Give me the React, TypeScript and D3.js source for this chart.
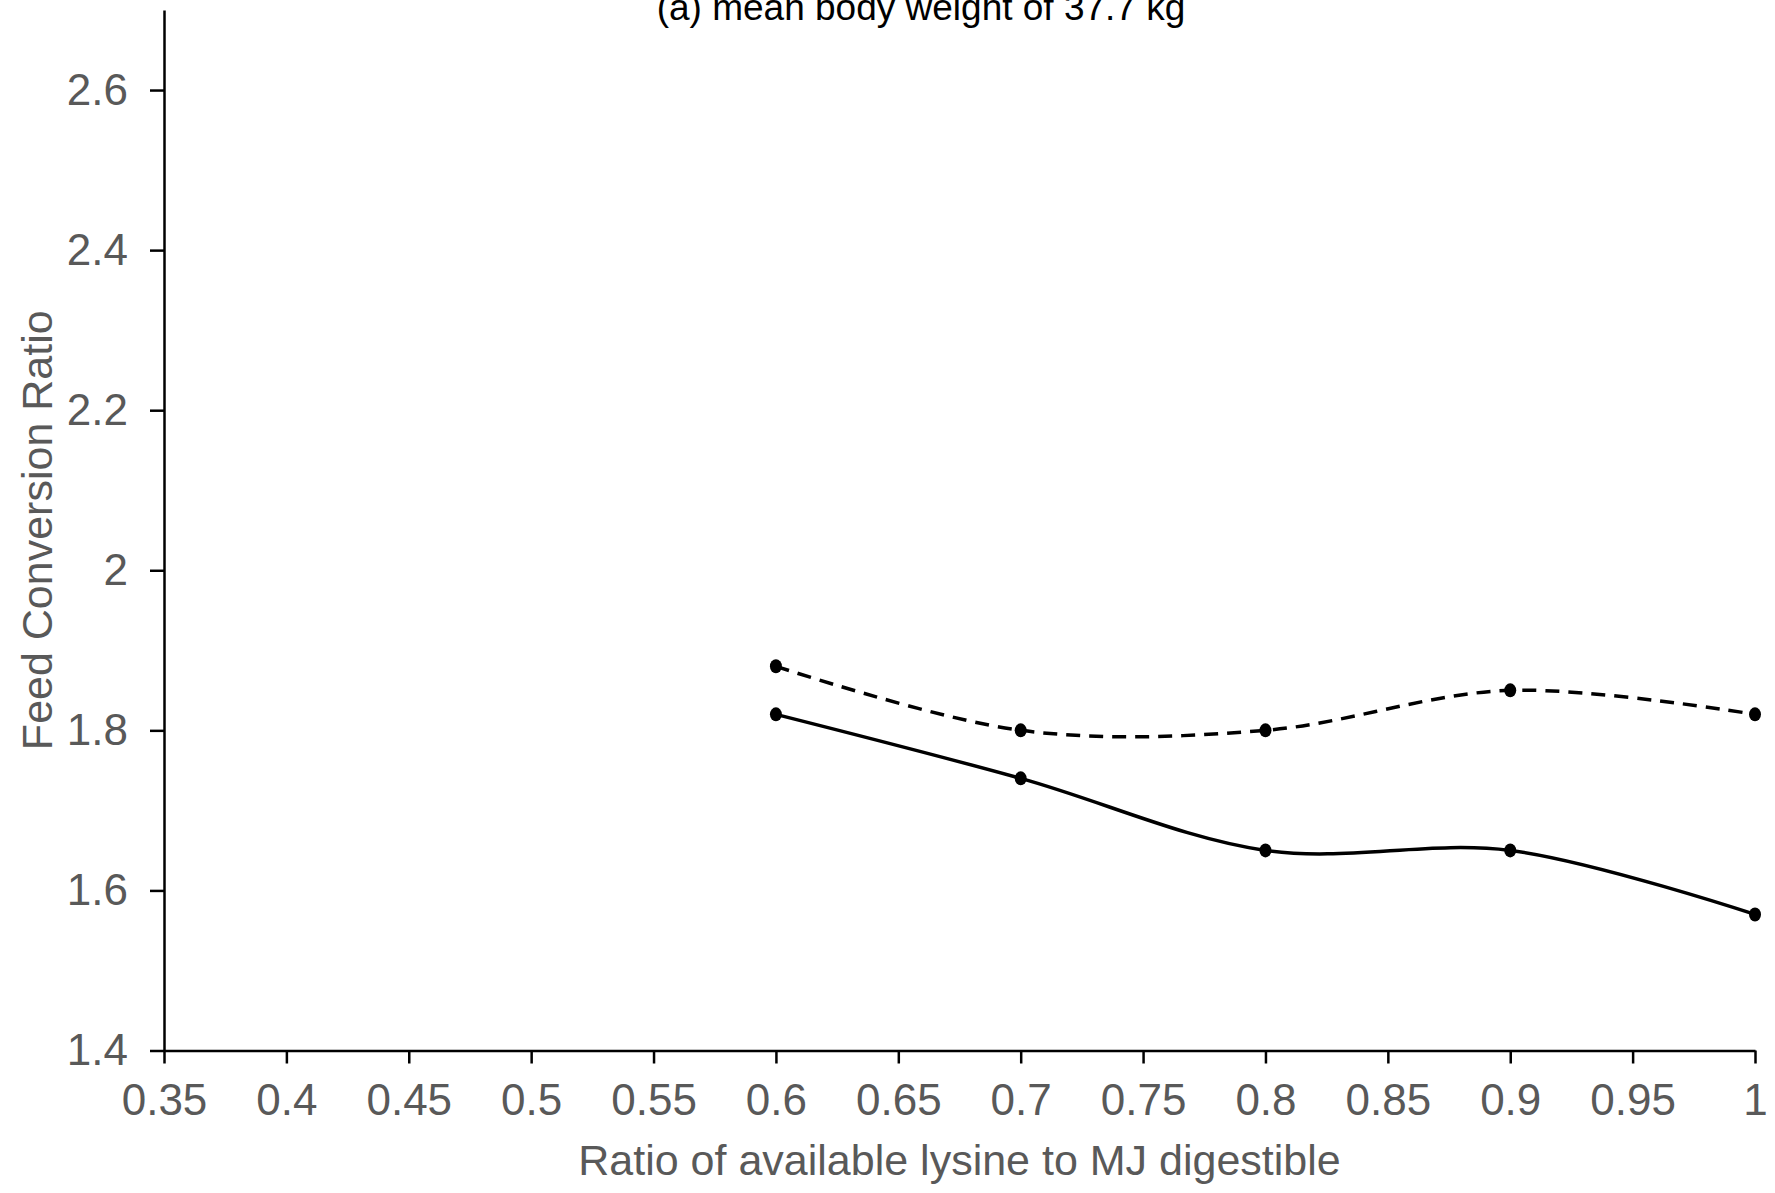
import { useEffect, useRef } from "react";
import * as d3 from "d3";

// Chart data
const ratios = [0.6, 0.7, 0.8, 0.9, 1.0];
const fcrDashed = [1.88, 1.8, 1.8, 1.85, 1.82];
const fcrSolid = [1.82, 1.74, 1.65, 1.65, 1.57];
const xTicks = [0.35, 0.4, 0.45, 0.5, 0.55, 0.6, 0.65, 0.7, 0.75, 0.8, 0.85, 0.9, 0.95, 1];
const yTicks = [1.4, 1.6, 1.8, 2, 2.2, 2.4, 2.6];

const FONT = "'Liberation Sans', Arial, sans-serif";

function App() {
  const ref = useRef<SVGSVGElement>(null);

  useEffect(() => {
    const svg = d3.select(ref.current);
    const width = 1775;
    const height = 1193;

    svg.attr("width", width).attr("height", height);

    // Scales
    const x = d3.scaleLinear().domain([0.35, 1]).range([164, 1755]);
    const y = d3.scaleLinear().domain([1.4, 2.7]).range([1050.5, 10]);

    // Axes
    const xAxis = svg
      .append("g")
      .attr("transform", `translate(0, ${y(1.4)})`)
      .call(
        d3
          .axisBottom(x)
          .tickValues(xTicks)
          .tickFormat((d) => String(d))
          .tickSizeInner(13)
          .tickSizeOuter(0)
          .tickPadding(20)
      );

    const yAxis = svg
      .append("g")
      .attr("transform", `translate(${x(0.35)}, 0)`)
      .call(
        d3
          .axisLeft(y)
          .tickValues(yTicks)
          .tickFormat((d) => String(d))
          .tickSizeInner(14)
          .tickSizeOuter(0)
          .tickPadding(22)
      );

    [xAxis, yAxis].forEach((g) => {
      g.select(".domain").attr("stroke", "#000").attr("stroke-width", 2.5);
      g.selectAll(".tick line").attr("stroke", "#000").attr("stroke-width", 2.5);
      g.selectAll(".tick text")
        .attr("fill", "#595959")
        .style("font-family", FONT)
        .style("font-size", "44px");
    });

    // Title (cut at the top like the source)
    svg
      .append("text")
      .attr("x", 921)
      .attr("y", 20)
      .attr("text-anchor", "middle")
      .attr("fill", "#000")
      .style("font-family", FONT)
      .style("font-size", "37px")
      .text("(a) mean body weight of 37.7 kg");

    // X axis label
    svg
      .append("text")
      .attr("x", (x(0.35) + x(1)) / 2)
      .attr("y", 1175)
      .attr("text-anchor", "middle")
      .attr("fill", "#595959")
      .style("font-family", FONT)
      .style("font-size", "43px")
      .text("Ratio of available lysine to MJ digestible");

    // Y axis label
    svg
      .append("text")
      .attr("transform", `translate(52, ${(y(1.4) + y(2.7)) / 2}) rotate(-90)`)
      .attr("text-anchor", "middle")
      .attr("fill", "#595959")
      .style("font-family", FONT)
      .style("font-size", "43px")
      .text("Feed Conversion Ratio");

    // Lines
    const line = d3
      .line<number>()
      .x((d, i) => x(ratios[i]))
      .y((d) => y(d))
      .curve(d3.curveCatmullRom.alpha(0.5));

    const series = [
      { values: fcrDashed, dash: "14,9" },
      { values: fcrSolid, dash: null },
    ];

    series.forEach((s) => {
      svg
        .append("path")
        .datum(s.values)
        .attr("fill", "none")
        .attr("stroke", "#000")
        .attr("stroke-width", 3.5)
        .attr("stroke-dasharray", s.dash)
        .attr("d", line);

      svg
        .append("g")
        .selectAll("ellipse")
        .data(s.values)
        .enter()
        .append("ellipse")
        .attr("cx", (d, i) => x(ratios[i]))
        .attr("cy", (d) => y(d))
        .attr("rx", 6)
        .attr("ry", 7)
        .attr("fill", "#000");
    });

    return () => {
      svg.selectAll("*").remove();
    };
  }, []);

  return (
    <div style={{ position: "absolute", left: 0, top: 0, background: "#fff" }}>
      <svg ref={ref} style={{ display: "block" }} />
    </div>
  );
}

export default App;
